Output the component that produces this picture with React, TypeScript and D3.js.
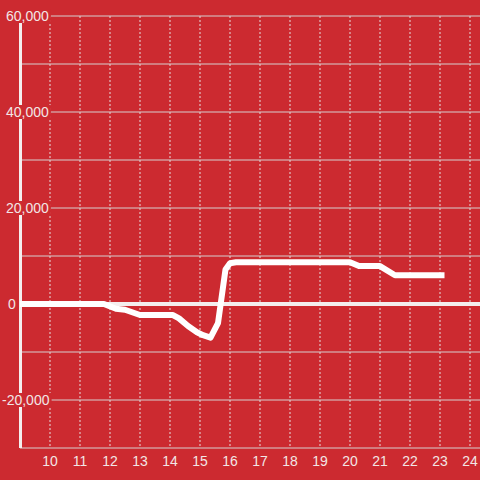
import React from "react";
import * as d3 from "d3";

const hours = [9, 11.8, 12.2, 12.5, 13.0, 14.1, 14.3, 14.6, 14.9, 15.1, 15.35, 15.6, 15.85, 16.0, 16.2, 20.0, 20.3, 21.0, 21.5, 23.15];
const values = [0, 0, -1000, -1200, -2300, -2300, -3000, -4600, -5900, -6500, -7000, -4000, 7200, 8500, 8700, 8700, 7900, 7900, 6000, 6000];
const xTicks = [10, 11, 12, 13, 14, 15, 16, 17, 18, 19, 20, 21, 22, 23, 24];
const yMajor = [60000, 40000, 20000, 0, -20000];
const yMinor = [50000, 30000, 10000, -10000];

const W = 480;
const H = 480;
const BG = "#cc2a30";
const FONT = "Liberation Sans, Arial, sans-serif";

export default function App() {
  const x = d3.scaleLinear().domain([9, 24]).range([20, 470]);
  const y = d3.scaleLinear().domain([-30000, 60000]).range([448, 16]);
  const fmt = d3.format(",");
  const data = hours.map((h, i) => [h, values[i]] as [number, number]);
  const line = d3
    .line<[number, number]>()
    .x((d) => x(d[0]))
    .y((d) => y(d[1]))
    .curve(d3.curveLinear);

  return (
    <svg
      width={W}
      height={H}
      style={{ position: "fixed", left: 0, top: 0, display: "block" }}
      fontFamily={FONT}
    >
      <rect x={0} y={0} width={W} height={H} fill={BG} />
      {xTicks.map((t) => (
        <line
          key={"vx" + t}
          x1={x(t)}
          x2={x(t)}
          y1={16}
          y2={447}
          stroke="#e6dede"
          strokeWidth={1}
          strokeDasharray="2,2"
        />
      ))}
      {yMinor.concat(yMajor.filter((v) => v !== 0)).map((v) => (
        <line
          key={"h" + v}
          x1={20}
          x2={W}
          y1={y(v)}
          y2={y(v)}
          stroke="#d6cfcf"
          strokeWidth={1}
        />
      ))}
      <line x1={20} x2={W} y1={448} y2={448} stroke="#d6cfcf" strokeWidth={1} />
      <line x1={20} x2={W} y1={y(0)} y2={y(0)} stroke="#f4eeee" strokeWidth={4} />
      <line x1={20.5} x2={20.5} y1={16} y2={448} stroke="#f4eeee" strokeWidth={3} />
      <path
        d={line(data) || ""}
        fill="none"
        stroke="#ffffff"
        strokeWidth={6}
        strokeLinejoin="round"
        strokeLinecap="butt"
      />
      {yMajor.map((v) => {
        const label = fmt(v).replace("−", "-");
        const approxW = label.length * 7.8 - (label.includes(",") ? 3.9 : 0) - (v < 0 ? 3.1 : 0);
        const x0 = v < 0 ? 2 : v === 0 ? 8 : 6;
        return (
          <g key={"yl" + v}>
            <rect x={x0 - 2} y={y(v) - 7} width={approxW + 4} height={14} fill={BG} />
            <text
              x={x0}
              y={y(v)}
              dy="0.36em"
              fontSize={14}
              fill="#f2e6e6"
              textAnchor="start"
            >
              {label}
            </text>
          </g>
        );
      })}
      {xTicks.map((t) => (
        <text
          key={"xl" + t}
          x={x(t)}
          y={466}
          fontSize={14}
          fill="#f2e6e6"
          textAnchor="middle"
        >
          {t}
        </text>
      ))}
    </svg>
  );
}
